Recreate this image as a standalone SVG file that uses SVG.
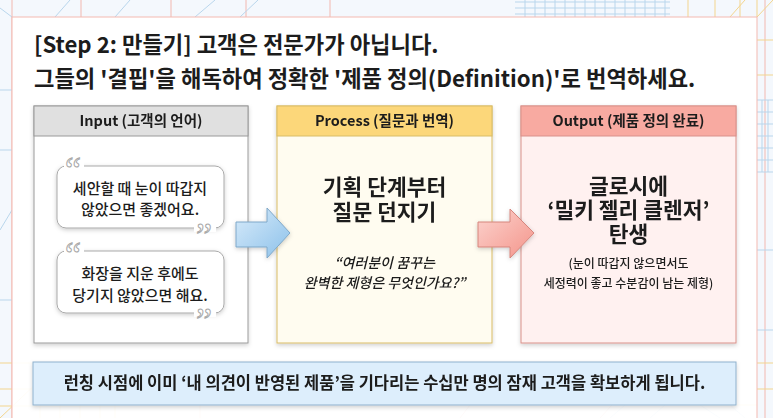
<svg xmlns="http://www.w3.org/2000/svg" width="773" height="418" viewBox="0 0 773 418">
<style>
  text{font-family:"Noto Sans CJK KR","Noto Sans",sans-serif;fill:#1c1c1c}
  .title{font-size:22.2px;font-weight:700}
  .hdr{font-size:14.5px;font-weight:700;text-anchor:middle}
  .bub{font-size:15px;font-weight:500;text-anchor:middle}
  .big{font-size:21.5px;font-weight:700;text-anchor:middle}
  .it{font-size:14px;font-style:italic;font-weight:500;text-anchor:middle}
  .sm{font-size:12px;font-weight:500;text-anchor:middle}
  .qm{font-family:"Liberation Serif",serif;font-size:36px;fill:#ffffff;stroke:#a8a8a8;stroke-width:1}
  .gp{stroke:#f2b8b0;stroke-width:1;fill:none}
  .gy{stroke:#f3d58e;stroke-width:1;fill:none}
  .gb{stroke:#b9d6ec;stroke-width:1;fill:none}
</style>
<defs>
  <filter id="sh" x="-10%" y="-10%" width="120%" height="125%">
    <feDropShadow dx="0" dy="2" stdDeviation="2" flood-color="#000" flood-opacity="0.18"/>
  </filter>
  <filter id="sh2" x="-10%" y="-10%" width="120%" height="130%">
    <feDropShadow dx="0" dy="1.5" stdDeviation="2" flood-color="#000" flood-opacity="0.2"/>
  </filter>
  <linearGradient id="gBlue" x1="0" y1="0" x2="1" y2="1">
    <stop offset="0" stop-color="#d8ebfa"/>
    <stop offset="1" stop-color="#8cc1ea"/>
  </linearGradient>
  <linearGradient id="gRed" x1="0" y1="0" x2="1" y2="1">
    <stop offset="0" stop-color="#fcd4cf"/>
    <stop offset="1" stop-color="#f4948a"/>
  </linearGradient>
</defs>

<!-- background -->
<rect x="0" y="0" width="773" height="418" fill="#f4f8fd"/>
<g id="bg-grid">
  <path class="gp" d="M81 0V17M171 0V17M246 0V17M330 0V17M12 0V418M765 0V418"/>
  <path class="gb" d="M0 8L12 17M55 17L70 0M115 17L130 0M195 17L215 0M240 17L258 0M0 90H12M0 150H12M0 230L12 210M0 300H12"/>
  <path class="gb" d="M515 2H670M515 8H670M515 14H670M525 0V17M535 0V17M545 0V17M555 0V17M565 0V17M575 0V17M585 0V17M595 0V17M605 0V17M615 0V17M625 0V17M635 0V17M645 0V17M655 0V17M665 0V17"/>
  <path class="gy" d="M688 0V17M715 0V17M740 0V17M757 0V17M730 17L745 0M757 17L773 0M757 40H773M757 75H773"/>
  <path class="gb" d="M757 100H773M757 112H773M757 124H773M757 136H773M757 148H773M757 160H773M757 172H773M762 100V172M768 100V172M757 250H773M757 330H773"/>
  <path class="gy" d="M0 363H40M0 389H40M0 406H120M40 395V418M60 395V418M80 395V418M100 395V418M115 395V418M0 418L40 380M757 363H773M757 389H773M690 405H757"/>
  <path class="gb" d="M610 418L625 405M650 418L665 405M700 405L720 418M730 405L745 418"/>
  <path class="gp" d="M200 405V418M470 405L460 418M600 418L612 405"/>
</g>

<!-- main panel -->
<rect x="12" y="17" width="745" height="420" fill="#ffffff" fill-opacity="0.93" stroke="#f3b9b1" stroke-width="1"/>

<!-- title -->
<g id="title">
  <text class="title" x="34" y="53">[Step 2: 만들기] 고객은 전문가가 아닙니다.</text>
  <text class="title" x="34" y="87">그들의 '결핍'을 해독하여 정확한 '제품 정의(Definition)'로 번역하세요.</text>
</g>

<!-- Input node -->
<g id="node-input" filter="url(#sh)">
  <rect x="34" y="106" width="214" height="237" fill="#ffffff" stroke="#9a9a9a"/>
  <rect x="34" y="106" width="214" height="30" fill="#e0e0e0" stroke="#9a9a9a"/>
  <text class="hdr" x="141" y="126">Input (고객의 언어)</text>
</g>
<g id="quote-1">
  <rect x="57" y="166" width="167" height="62" rx="9" fill="#ffffff" stroke="#a9a9a9" filter="url(#sh2)"/>
  <rect x="64" y="162" width="20" height="8" fill="#ffffff"/>
  <text class="qm" x="65" y="182">“</text>
  <rect x="194" y="224" width="22" height="8" fill="#ffffff"/>
  <text class="qm" x="196" y="248">”</text>
  <text class="bub" x="140" y="194">세안할 때 눈이 따갑지</text>
  <text class="bub" x="140" y="215">않았으면 좋겠어요.</text>
</g>
<g id="quote-2">
  <rect x="57" y="251" width="167" height="62" rx="9" fill="#ffffff" stroke="#a9a9a9" filter="url(#sh2)"/>
  <rect x="64" y="247" width="20" height="8" fill="#ffffff"/>
  <text class="qm" x="65" y="267">“</text>
  <rect x="194" y="309" width="22" height="8" fill="#ffffff"/>
  <text class="qm" x="196" y="333">”</text>
  <text class="bub" x="140" y="279">화장을 지운 후에도</text>
  <text class="bub" x="140" y="301">당기지 않았으면 해요.</text>
</g>

<!-- Process node -->
<g id="node-process" filter="url(#sh)">
  <rect x="277" y="106" width="215" height="237" fill="#fffcf0" stroke="#d9bc66"/>
  <rect x="277" y="106" width="215" height="30" fill="#fcd77a" stroke="#d9bc66"/>
  <text class="hdr" x="384.5" y="126">Process (질문과 번역)</text>
  <text class="big" x="384.5" y="195">기획 단계부터</text>
  <text class="big" x="384.5" y="220">질문 던지기</text>
  <text class="it" x="384.5" y="268">“여러분이 꿈꾸는</text>
  <text class="it" x="384.5" y="288">완벽한 제형은 무엇인가요?”</text>
</g>

<!-- Output node -->
<g id="node-output" filter="url(#sh)">
  <rect x="521" y="106" width="215" height="237" fill="#fff1f0" stroke="#d9918a"/>
  <rect x="521" y="106" width="215" height="30" fill="#f8aaa1" stroke="#d9918a"/>
  <text class="hdr" x="628.5" y="126">Output (제품 정의 완료)</text>
  <text class="big" x="628.5" y="194">글로시에</text>
  <text class="big" x="628.5" y="218">‘밀키 젤리 클렌저’</text>
  <text class="big" x="628.5" y="242">탄생</text>
  <text class="sm" x="628.5" y="268">(눈이 따갑지 않으면서도</text>
  <text class="sm" x="628.5" y="288">세정력이 좋고 수분감이 남는 제형)</text>
</g>

<!-- connectors -->
<g id="connectors">
  <path d="M236 222H267V208L290 233L267 258V247H236Z" fill="url(#gBlue)" stroke="#7ea8c9" stroke-width="1" filter="url(#sh2)"/>
  <path d="M478 222H510V209L534 233L510 258V247H478Z" fill="url(#gRed)" stroke="#d6857d" stroke-width="1" filter="url(#sh2)"/>
</g>

<!-- banner -->
<g id="banner" filter="url(#sh)">
  <rect x="33" y="362" width="703" height="43" fill="#ddeefc" stroke="#8fb1cd"/>
  <text x="384.5" y="389" style="font-size:16.5px;font-weight:700;text-anchor:middle">런칭 시점에 이미 ‘내 의견이 반영된 제품’을 기다리는 수십만 명의 잠재 고객을 확보하게 됩니다.</text>
</g>
</svg>
